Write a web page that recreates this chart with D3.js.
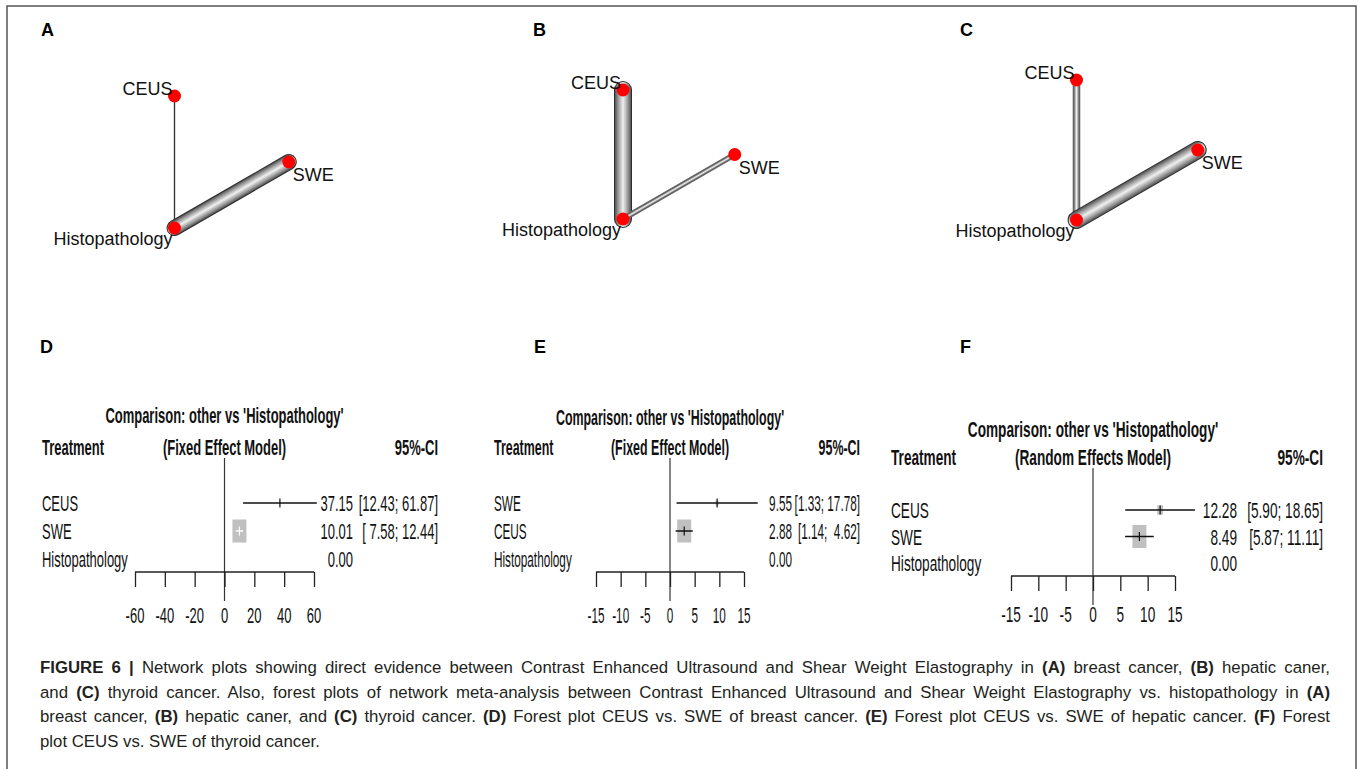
<!DOCTYPE html>
<html>
<head>
<meta charset="utf-8">
<script src="https://cdn.jsdelivr.net/npm/d3@7"></script>
<style>
  body { margin: 0; background: #fff; }
  #wrap { position: relative; width: 1360px; height: 769px; overflow: hidden; background: #fff; }
  svg { position: absolute; left: 0; top: 0; }
  .caption {
    position: absolute; left: 40px; top: 656px; width: 1290px;
    font-family: 'Liberation Sans', Arial, sans-serif; font-size: 16.8px;
    line-height: 24.5px; color: #231f20;
  }
  .caption div { text-align: justify; text-align-last: justify; }
  .caption div.last { text-align-last: left; }
  .caption b { font-weight: bold; }
</style>
</head>
<body>
<div id="wrap">
  <svg id="fig" width="1360" height="769"></svg>
  <div class="caption">
    <div><b>FIGURE 6 |</b> Network plots showing direct evidence between Contrast Enhanced Ultrasound and Shear Weight Elastography in <b>(A)</b> breast cancer, <b>(B)</b> hepatic caner,</div>
    <div>and <b>(C)</b> thyroid cancer. Also, forest plots of network meta-analysis between Contrast Enhanced Ultrasound and Shear Weight Elastography vs. histopathology in <b>(A)</b></div>
    <div>breast cancer, <b>(B)</b> hepatic caner, and <b>(C)</b> thyroid cancer. <b>(D)</b> Forest plot CEUS vs. SWE of breast cancer. <b>(E)</b> Forest plot CEUS vs. SWE of hepatic cancer. <b>(F)</b> Forest</div>
    <div class="last">plot CEUS vs. SWE of thyroid cancer.</div>
  </div>
</div>
<script>
// network nodes (netgraph layout units) and edges
const nodeNames = ['CEUS', 'SWE', 'Histopathology'];
const layoutX = [0, 0.866, 0];
const layoutY = [1, 0.5, 0];
const edgeFrom = ['CEUS', 'SWE'];
const edgeTo = ['Histopathology', 'Histopathology'];
const studiesA = [1, 7];
const studiesB = [8, 2];
const studiesC = [3, 8];

// forest plot data
const treatmentsD = ['CEUS', 'SWE', 'Histopathology'];
const estD = [37.15, 10.01, 0];
const lowerD = [12.43, 7.58, null];
const upperD = [61.87, 12.44, null];

const treatmentsE = ['SWE', 'CEUS', 'Histopathology'];
const estE = [9.55, 2.88, 0];
const lowerE = [1.33, 1.14, null];
const upperE = [17.78, 4.62, null];

const treatmentsF = ['CEUS', 'SWE', 'Histopathology'];
const estF = [12.28, 8.49, 0];
const lowerF = [5.90, 5.87, null];
const upperF = [18.65, 11.11, null];

const ticksD = [-60, -40, -20, 0, 20, 40, 60];
const ticksEF = [-15, -10, -5, 0, 5, 10, 15];

const svg = d3.select('#fig');
const defs = svg.append('defs');
const FONT = "'Liberation Sans', Arial, sans-serif";

// outer frame (open at the bottom, cut by the page)
svg.append('path')
    .attr('d', 'M7,769 V6 H1356 V769')
    .attr('fill', 'none')
    .attr('stroke', '#555')
    .attr('stroke-width', 1.5);

function panelLetter(x, y, t) {
    svg.append('text')
        .attr('x', x).attr('y', y)
        .style('font-family', FONT)
        .style('font-size', '18px')
        .style('font-weight', 'bold')
        .text(t);
}

// ---------- network plots ----------
const widthScale = d3.scaleLinear().domain([1, 8]).range([1.4, 16]);
let gradId = 0;

function drawNetwork(opt) {
    const g = svg.append('g');
    const x = d3.scaleLinear().domain([0, 1]).range([opt.x0, opt.x0 + opt.k]);
    const y = d3.scaleLinear().domain([0, 1]).range([opt.y0, opt.y0 - opt.k]);
    const pos = {};
    nodeNames.forEach((n, i) => { pos[n] = [x(layoutX[i]), y(layoutY[i])]; });

    edgeFrom.forEach((from, i) => {
        const [x1, y1] = pos[from];
        const [x2, y2] = pos[edgeTo[i]];
        const w = widthScale(opt.studies[i]);
        if (w < 3) {
            g.append('line')
                .attr('x1', x1).attr('y1', y1).attr('x2', x2).attr('y2', y2)
                .attr('stroke', '#3a3a3a').attr('stroke-width', w);
            return;
        }
        // tube look: gradient across the edge
        const len = Math.hypot(x2 - x1, y2 - y1);
        const nx = -(y2 - y1) / len, ny = (x2 - x1) / len;
        const mx = (x1 + x2) / 2, my = (y1 + y2) / 2;
        const id = 'tube' + (gradId++);
        const grad = defs.append('linearGradient')
            .attr('id', id)
            .attr('gradientUnits', 'userSpaceOnUse')
            .attr('x1', mx - nx * w / 2).attr('y1', my - ny * w / 2)
            .attr('x2', mx + nx * w / 2).attr('y2', my + ny * w / 2);
        [[0, '#555'], [0.2, '#999'], [0.5, '#f0f0f0'], [0.8, '#999'], [1, '#555']]
            .forEach(s => grad.append('stop').attr('offset', s[0]).attr('stop-color', s[1]));

        g.append('line')
            .attr('x1', x1).attr('y1', y1).attr('x2', x2).attr('y2', y2)
            .attr('stroke', w > 8 ? '#2e2e2e' : '#666')
            .attr('stroke-width', w + 2)
            .attr('stroke-linecap', 'round');
        g.append('line')
            .attr('x1', x1).attr('y1', y1).attr('x2', x2).attr('y2', y2)
            .attr('stroke', `url(#${id})`)
            .attr('stroke-width', w)
            .attr('stroke-linecap', 'round');
    });

    g.selectAll('circle')
        .data(nodeNames)
        .enter()
        .append('circle')
        .attr('cx', d => pos[d][0])
        .attr('cy', d => pos[d][1])
        .attr('r', 6.5)
        .attr('fill', '#ff0000');

    // node labels
    const lab = (n, dx, dy, anchor) => g.append('text')
        .attr('x', pos[n][0] + dx).attr('y', pos[n][1] + dy)
        .attr('text-anchor', anchor)
        .style('font-family', FONT)
        .style('font-size', '18px')
        .style('fill', '#111')
        .text(n);
    lab('CEUS', -2, -1, 'end');
    lab('SWE', 4, 19, 'start');
    lab('Histopathology', -2, 17, 'end');
}

panelLetter(41, 36, 'A');
panelLetter(533, 36, 'B');
panelLetter(960, 36, 'C');
drawNetwork({ x0: 174.5, y0: 228, k: 132, studies: studiesA });
drawNetwork({ x0: 623, y0: 219, k: 129, studies: studiesB });
drawNetwork({ x0: 1076.5, y0: 220, k: 140, studies: studiesC });

// ---------- forest plots ----------
// R output was squashed horizontally, by a different amount in each panel
function sqText(g, sq, x, y, str, anchor, bold) {
    return g.append('text')
        .attr('transform', `translate(${x},${y}) scale(${sq},1)`)
        .attr('text-anchor', anchor)
        .style('font-family', FONT)
        .style('font-size', '22px')
        .style('font-weight', bold ? 'bold' : 'normal')
        .style('white-space', 'pre')
        .style('fill', '#111')
        .text(str);
}

function drawForest(opt) {
    const g = svg.append('g');
    const sq = opt.sq, sqH = opt.sqHead || opt.sq;
    const x = d3.scaleLinear().domain(opt.domain).range(opt.range);
    const y = d3.scalePoint().domain(opt.treatments)
        .range([opt.rowY0, opt.rowY0 + 2 * opt.rowStep]);
    const x0 = x(0);
    const f2 = d3.format('.2f');

    sqText(g, sqH, x0, opt.titleY, "Comparison: other vs 'Histopathology'", 'middle', true);
    sqText(g, sqH, opt.left, opt.headY, 'Treatment', 'start', true);
    sqText(g, sqH, x0, opt.headY, opt.model, 'middle', true);
    sqText(g, sqH, opt.ciX, opt.headY, '95%-CI', 'end', true);

    // zero line
    g.append('line')
        .attr('x1', x0).attr('x2', x0)
        .attr('y1', opt.headY + 3).attr('y2', opt.axisY + 29)
        .attr('stroke', '#333').attr('stroke-width', 1.2);

    // axis
    const axis = d3.axisBottom(x)
        .tickValues(opt.ticks)
        .tickSize(15)
        .tickFormat('');
    const ax = g.append('g')
        .attr('transform', `translate(0,${opt.axisY})`)
        .call(axis);
    ax.select('.domain').attr('d', `M${opt.range[0]},0H${opt.range[1]}`)
        .attr('stroke', '#222').attr('stroke-width', 1.5);
    ax.selectAll('.tick line').attr('stroke', '#222').attr('stroke-width', 1.3);
    opt.ticks.forEach(t => sqText(g, sq, x(t), opt.tickLabY, String(t), 'middle', false));

    // column padding for CI text, as in R output
    const lows = opt.lower.filter(v => v != null).map(f2);
    const ups = opt.upper.filter(v => v != null).map(f2);
    const padL = d3.max(lows, s => s.length), padU = d3.max(ups, s => s.length);
    const ciW = opt.treatments.map((t, i) => opt.lower[i] == null ? null : opt.upper[i] - opt.lower[i]);
    const minW = d3.min(ciW.filter(v => v != null));

    opt.treatments.forEach((t, i) => {
        const yy = y(t);
        sqText(g, sq, opt.left, yy, t, 'start', false);
        sqText(g, sq, opt.estX, yy, f2(opt.est[i]), 'end', false);
        if (opt.lower[i] == null) return;
        const lo = f2(opt.lower[i]).padStart(padL, ' ');
        const hi = f2(opt.upper[i]).padStart(padU, ' ');
        sqText(g, sq, opt.ciX, yy, `[${lo}; ${hi}]`, 'end', false);

        const cy = yy - 8;
        const r = minW / ciW[i];
        const bw = 14 * r, bh = 23 * r;
        const cx = x(opt.est[i]);
        g.append('rect')
            .attr('x', cx - bw / 2).attr('y', cy - bh / 2)
            .attr('width', bw).attr('height', bh)
            .attr('fill', '#c0c0c0');
        const inside = x(opt.lower[i]) >= cx - bw / 2 && x(opt.upper[i]) <= cx + bw / 2;
        const col = inside ? '#fff' : '#111';
        g.append('line')
            .attr('x1', x(opt.lower[i])).attr('x2', x(opt.upper[i]))
            .attr('y1', cy).attr('y2', cy)
            .attr('stroke', col).attr('stroke-width', 1.5);
        g.append('line')
            .attr('x1', cx).attr('x2', cx)
            .attr('y1', cy - 4.5).attr('y2', cy + 4.5)
            .attr('stroke', col).attr('stroke-width', 1.2);
    });
}

panelLetter(40, 353, 'D');
panelLetter(534, 353, 'E');
panelLetter(960, 353, 'F');

drawForest({
    treatments: treatmentsD, est: estD, lower: lowerD, upper: upperD,
    domain: [-60, 60], range: [135, 314], ticks: ticksD, sq: 0.59,
    model: '(Fixed Effect Model)', left: 42, estX: 353, ciX: 438,
    titleY: 423, headY: 455, rowY0: 511, rowStep: 28, axisY: 572, tickLabY: 623
});
drawForest({
    treatments: treatmentsE, est: estE, lower: lowerE, upper: upperE,
    domain: [-15, 15], range: [596, 744], ticks: ticksEF, sq: 0.535, sqHead: 0.565,
    model: '(Fixed Effect Model)', left: 494, estX: 792, ciX: 860,
    titleY: 425, headY: 455, rowY0: 511, rowStep: 28, axisY: 572, tickLabY: 623
});
drawForest({
    treatments: treatmentsF, est: estF, lower: lowerF, upper: upperF,
    domain: [-15, 15], range: [1011, 1175], ticks: ticksEF, sq: 0.62,
    model: '(Random Effects Model)', left: 891, estX: 1237, ciX: 1323,
    titleY: 437, headY: 465, rowY0: 518, rowStep: 26.5, axisY: 576, tickLabY: 622
});
</script>
</body>
</html>
